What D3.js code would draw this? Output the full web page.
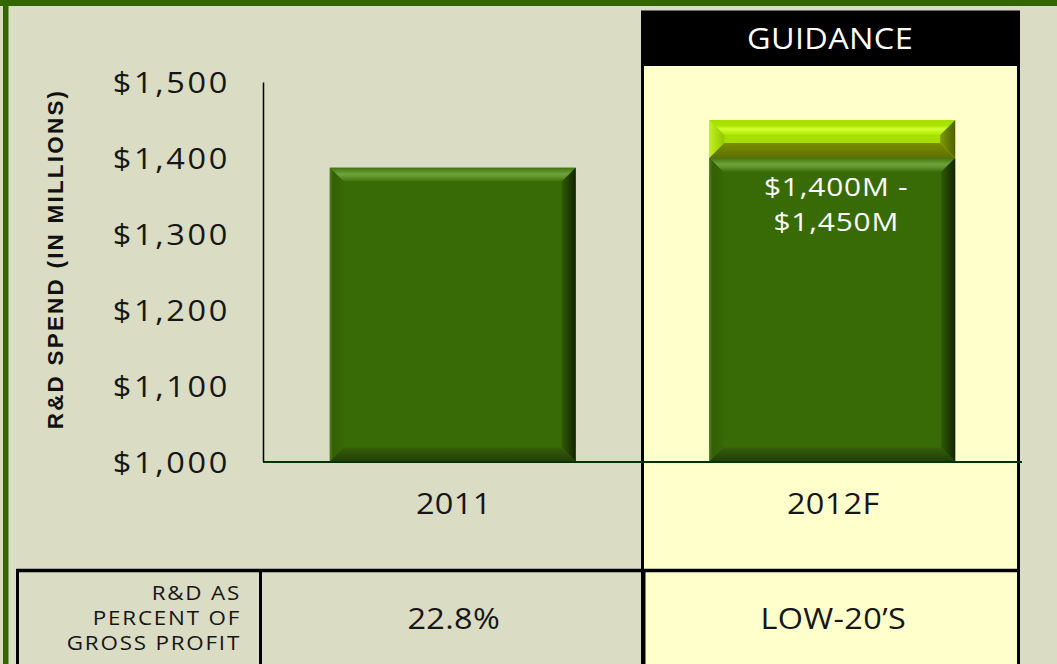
<!DOCTYPE html>
<html>
<head>
<meta charset="utf-8">
<script src="https://cdn.jsdelivr.net/npm/d3@7"></script>
<style>
  html, body { margin: 0; padding: 0; background: #dadcc4; }
  svg { display: block; }
  text { font-family: "Open Sans", sans-serif; }
</style>
</head>
<body>
<div id="chart"></div>
<script>
// chart values
const years = ["2011", "2012F"];
const spendActual = [1387, null];      // 2011 actual R&D spend ($M)
const guidanceLow = [null, 1400];      // 2012 guidance range ($M)
const guidanceHigh = [null, 1450];
const yTicks = [1000, 1100, 1200, 1300, 1400, 1500];
const pctOfGross = ["22.8%", "LOW-20\u2019S"];
const rowLabel = ["R&D AS", "PERCENT OF", "GROSS PROFIT"];
const guidanceText = ["$1,400M -", "$1,450M"];

const width = 1057, height = 664;
const SX = 1.12; // slide font is wider than Open Sans, stretch a bit
const svg = d3.select("#chart").append("svg")
    .attr("width", width)
    .attr("height", height);

const defs = svg.append("defs");
function grad(id, stops, vertical) {
    const g = defs.append("linearGradient").attr("id", id)
        .attr("x1", 0).attr("y1", 0)
        .attr("x2", vertical ? 0 : 1).attr("y2", vertical ? 1 : 0);
    stops.forEach(s => g.append("stop").attr("offset", s[0]).attr("stop-color", s[1]));
}
// dark green bevel
grad("dTop", [[0, "#3f7410"], [0.45, "#6fa23a"], [0.7, "#5d9028"], [1, "#3b6d08"]], true);
grad("dRight", [[0, "#2f5a04"], [1, "#122400"]], false);
grad("dBottom", [[0, "#355f08"], [1, "#233d0a"]], true);
grad("dLeft", [[0, "#4b7c1a"], [0.25, "#335f06"], [1, "#386805"]], false);
// light green bevel
grad("lTop", [[0, "#a6de00"], [0.35, "#a8e200"], [0.6, "#d0ff30"], [1, "#b0e800"]], true);
grad("lRight", [[0, "#7f9a00"], [1, "#4d6000"]], false);
grad("lBottom", [[0, "#7a8e00"], [1, "#5e7000"]], true);
grad("lLeft", [[0, "#c0f020"], [1, "#94c800"]], false);

// text with a little horizontal stretch
function wideText(parent, x, y, txt, size, spacing, anchor, fill) {
    return parent.append("text")
        .attr("transform", `translate(${x},${y}) scale(${SX},1)`)
        .attr("text-anchor", anchor)
        .attr("fill", fill)
        .style("font-size", size + "px")
        .style("letter-spacing", spacing + "px")
        .text(txt);
}

// outer frame
svg.append("rect").attr("x", 0).attr("y", 0).attr("width", width).attr("height", 6).attr("fill", "#336600");
svg.append("rect").attr("x", 3).attr("y", 0).attr("width", 5.5).attr("height", height).attr("fill", "#336600");

// guidance panel
svg.append("rect").attr("x", 642.5).attr("y", 12).attr("width", 376).attr("height", 700)
    .attr("fill", "#ffffcc").attr("stroke", "#000").attr("stroke-width", 3);
svg.append("rect").attr("x", 641).attr("y", 11).attr("width", 379).attr("height", 55).attr("fill", "#000");
wideText(svg, 830, 49, "GUIDANCE", 29, 0.3, "middle", "#fff");

const x = d3.scaleBand().domain(years).range([263, 1022]);
const y = d3.scaleLinear().domain([1000, 1500]).range([461.5, 82]);
const barW = x.step() * 0.648;

// y axis
const yAxis = d3.axisLeft(y).tickValues(yTicks).tickSize(0).tickSizeOuter(0)
    .tickFormat(d3.format("$,"));
const ag = svg.append("g").attr("transform", "translate(263,0)").call(yAxis);
ag.select(".domain").attr("stroke", "#000").attr("stroke-width", 1.5);
ag.selectAll(".tick text")
    .attr("x", null).attr("dy", null)
    .attr("transform", `translate(-33,10.5) scale(${SX},1)`)
    .attr("fill", "#161616")
    .style("font-family", "'Open Sans', sans-serif")
    .style("font-size", "29px")
    .style("letter-spacing", "2.4px");

svg.append("text")
    .attr("transform", "translate(63,259) rotate(-90)")
    .attr("text-anchor", "middle")
    .style("font-family", "'Liberation Sans', Arial, sans-serif")
    .style("font-weight", "bold").style("font-size", "22.5px").style("letter-spacing", "2.2px")
    .attr("fill", "#111")
    .text("R&D SPEND (IN MILLIONS)");

function bevelBar(x0, y0, w, h, pal, b, face) {
    const x1 = x0 + w, y1 = y0 + h;
    const g = svg.append("g");
    g.append("rect").attr("x", x0).attr("y", y0).attr("width", w).attr("height", h).attr("fill", face);
    const bt = Math.min(b, h / 2);
    g.append("polygon").attr("points", [[x0, y0], [x1, y0], [x1 - bt, y0 + bt], [x0 + bt, y0 + bt]].join(" "))
        .attr("fill", `url(#${pal}Top)`);
    g.append("polygon").attr("points", [[x0, y0], [x0 + bt, y0 + bt], [x0 + bt, y1 - bt], [x0, y1]].join(" "))
        .attr("fill", `url(#${pal}Left)`);
    g.append("polygon").attr("points", [[x1, y0], [x1, y1], [x1 - bt, y1 - bt], [x1 - bt, y0 + bt]].join(" "))
        .attr("fill", `url(#${pal}Right)`);
    g.append("polygon").attr("points", [[x0, y1], [x1, y1], [x1 - bt, y1 - bt], [x0 + bt, y1 - bt]].join(" "))
        .attr("fill", `url(#${pal}Bottom)`);
}

years.forEach((yr, i) => {
    const bx = x(yr) + (x.step() - barW) / 2;
    const top = spendActual[i] != null ? spendActual[i] : guidanceLow[i];
    bevelBar(bx, y(top), barW, y(1000) - y(top), "d", 14, "#386b05");
    if (guidanceHigh[i] != null) {
        bevelBar(bx, y(guidanceHigh[i]), barW, y(guidanceLow[i]) - y(guidanceHigh[i]), "l", 15, "#a6de00");
        const cx = x(yr) + x.step() / 2;
        guidanceText.forEach((s, k) => {
            svg.append("text")
                .attr("transform", `translate(${cx + 4},${196 + k * 35}) scale(1.17,1)`)
                .attr("text-anchor", "middle").attr("fill", "#fff")
                .style("font-size", "25.5px").style("letter-spacing", "0.7px")
                .text(s);
        });
    }
});

// baseline
svg.append("line").attr("x1", 263).attr("x2", 1022).attr("y1", y(1000) + 0.5).attr("y2", y(1000) + 0.5)
    .attr("stroke", "#003300").attr("stroke-width", 2);

// category labels
years.forEach(d => {
    wideText(svg, x(d) + x.step() / 2 + 1, 514, d, 29, 0.3, "middle", "#161616");
});

// bottom table
const tbl = svg.append("g");
tbl.append("line").attr("x1", 16).attr("x2", 1019).attr("y1", 570.5).attr("y2", 570.5)
    .attr("stroke", "#000").attr("stroke-width", 3.5);
[[17.5, 3], [260.5, 3], [643.5, 4], [1018.5, 3]].forEach(v => {
    tbl.append("line").attr("x1", v[0]).attr("x2", v[0]).attr("y1", 569).attr("y2", height)
        .attr("stroke", "#000").attr("stroke-width", v[1]);
});
rowLabel.forEach((t, k) => {
    wideText(tbl, 241, 600 + k * 25, t, 20, 1.6, "end", "#161616");
});
pctOfGross.forEach((d, i) => {
    wideText(tbl, x(years[i]) + x.step() / 2 + 1, 629, d, 29, 0.3, "middle", "#161616");
});
</script>
</body>
</html>
